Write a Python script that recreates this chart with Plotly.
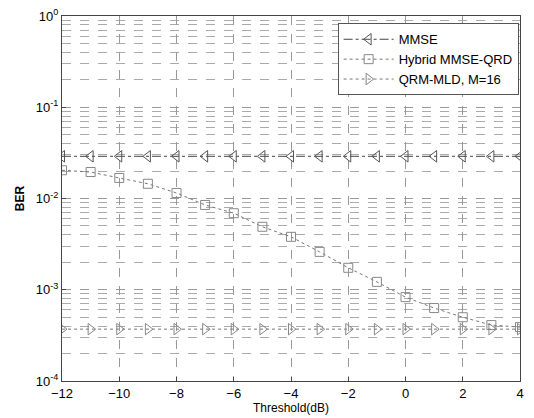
import plotly.graph_objects as go

thresholds = [-12, -11, -10, -9, -8, -7, -6, -5, -4, -3, -2, -1, 0, 1, 2, 3, 4]
mmse = [0.029] * 17
hybrid = [0.0204, 0.0195, 0.0168, 0.0145, 0.0115, 0.0085, 0.0069, 0.0049, 0.0038,
          0.0026, 0.00174, 0.00122, 0.00083, 0.00063, 0.0005, 0.00041, 0.00039]
qrm = [0.00037] * 17

ytick_vals = [1e-4, 1e-3, 1e-2, 1e-1, 1]
ytick_text = ["10<sup>-4</sup>", "10<sup>-3</sup>", "10<sup>-2</sup>", "10<sup>-1</sup>", "10<sup>0</sup>"]
xtick_vals = [-12, -10, -8, -6, -4, -2, 0, 2, 4]

fig = go.Figure()
fig.add_trace(go.Scatter(x=thresholds, y=mmse, name="MMSE", mode="lines+markers",
                         line=dict(color="#444", width=1, dash="dashdot"),
                         marker=dict(symbol="triangle-left-open", size=10, color="#555", line=dict(width=1))))
fig.add_trace(go.Scatter(x=thresholds, y=hybrid, name="Hybrid MMSE-QRD", mode="lines+markers",
                         line=dict(color="#777", width=1, dash="dot"),
                         marker=dict(symbol="square-open", size=9, color="#888", line=dict(width=1))))
fig.add_trace(go.Scatter(x=thresholds, y=qrm, name="QRM-MLD, M=16", mode="lines+markers",
                         line=dict(color="#777", width=1, dash="dot"),
                         marker=dict(symbol="triangle-right-open", size=10, color="#888", line=dict(width=1))))

fig.update_layout(
    width=534, height=418,
    margin=dict(l=62, r=14, t=16, b=37),
    paper_bgcolor="white", plot_bgcolor="white",
    font=dict(family="Liberation Sans, Arial, sans-serif", size=12, color="black"),
    showlegend=True,
    legend=dict(x=0.997, y=0.98, xanchor="right", yanchor="top",
                bordercolor="#555", borderwidth=1, bgcolor="white",
                font=dict(size=13), tracegroupgap=0, itemwidth=50),
)
fig.update_xaxes(range=[-12, 4], tickvals=xtick_vals, ticks="inside", ticklen=4,
                 showline=True, linecolor="#444", mirror=True, automargin=False,
                 showgrid=True, gridcolor="#999", griddash="dash", gridwidth=1,
                 zeroline=False, tickfont=dict(size=13),
                 title=dict(text="Threshold(dB)", standoff=2, font=dict(size=12)))
fig.update_yaxes(type="log", range=[-4, 0], tickvals=ytick_vals, ticktext=ytick_text,
                 ticks="inside", ticklen=4, tickfont=dict(size=13), automargin=False,
                 showline=True, linecolor="#444", mirror=True,
                 showgrid=True, gridcolor="#999", griddash="dash", gridwidth=1,
                 minor=dict(showgrid=True, gridcolor="#aaa", griddash="dash", dtick="D1", ticks=""),
                 zeroline=False,
                 title=dict(text="<b>BER</b>", standoff=8, font=dict(size=12)))

fig.write_html("out.html", config={"displayModeBar": False},
               post_script="document.body.style.margin='0';document.body.style.overflow='hidden';")
